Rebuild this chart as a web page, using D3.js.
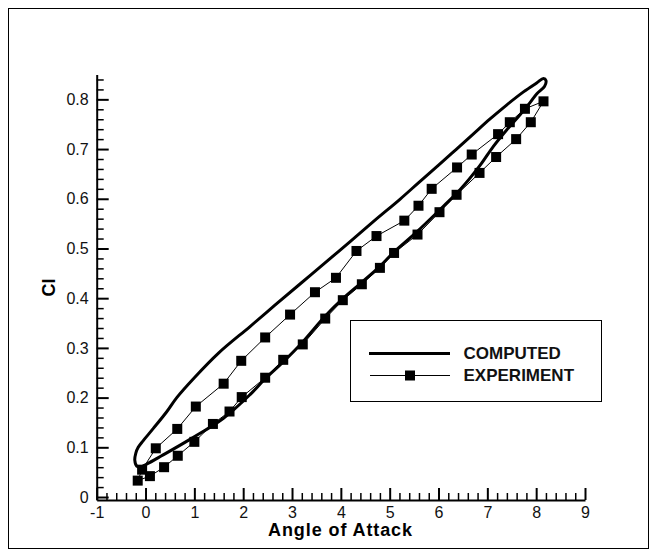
<!DOCTYPE html>
<html>
<head>
<meta charset="utf-8">
<script src="https://cdn.jsdelivr.net/npm/d3@7"></script>
<style>
  html, body { margin: 0; padding: 0; background: #fff; }
  svg { display: block; }
  text { font-family: "Liberation Sans", Arial, Helvetica, sans-serif; }
</style>
</head>
<body>
<svg id="chart" width="657" height="557"></svg>
<script>
// Axis ticks and labels
const angleTicks = [-1, 0, 1, 2, 3, 4, 5, 6, 7, 8, 9];
const angleTickLabels = ["-1", "0", "1", "2", "3", "4", "5", "6", "7", "8", "9"];
const clTicks = [0, 0.1, 0.2, 0.3, 0.4, 0.5, 0.6, 0.7, 0.8];
const clTickLabels = ["0", "0.1", "0.2", "0.3", "0.4", "0.5", "0.6", "0.7", "0.8"];
const seriesNames = ["COMPUTED", "EXPERIMENT"];

// Computed hysteresis loop: upper branch going up, then lower branch coming back
const computedAlpha = [
  -0.22, -0.20, -0.15, -0.05, 0.16, 0.43, 0.64, 1.00, 1.50, 2.14, 2.65, 3.17, 3.70,
  4.19, 4.70, 5.21, 5.60, 6.03, 6.37, 6.71, 7.05, 7.40, 7.74, 8.01, 8.15, 8.20,
  8.17, 8.01, 7.87, 7.67, 7.40, 7.12, 6.85, 6.44, 6.09, 5.55, 5.09, 4.80, 4.43,
  4.04, 3.68, 3.22, 2.82, 2.45, 2.14, 1.59, 0.91, 0.33, 0.02, -0.11, -0.18
];
const computedCl = [
  0.074, 0.088, 0.100, 0.113, 0.138, 0.171, 0.200, 0.240, 0.290, 0.343, 0.386, 0.429, 0.473,
  0.514, 0.557, 0.599, 0.633, 0.670, 0.700, 0.730, 0.760, 0.789, 0.815, 0.833, 0.842, 0.838,
  0.826, 0.811, 0.793, 0.769, 0.739, 0.705, 0.667, 0.618, 0.584, 0.533, 0.493, 0.464, 0.432,
  0.399, 0.364, 0.312, 0.272, 0.238, 0.206, 0.158, 0.116, 0.083, 0.066, 0.060, 0.062
];

// Measured loop
const experimentAlpha = [
  -0.07, 0.21, 0.65, 1.03, 1.60, 1.96, 2.45, 2.96, 3.47, 3.90, 4.32, 4.73, 5.30, 5.59,
  5.86, 6.38, 6.68, 7.22, 7.46, 7.77, 8.15,
  7.89, 7.59, 7.18, 6.84, 6.37, 6.02, 5.57, 5.09, 4.80, 4.43, 4.04, 3.68, 3.22, 2.82,
  2.45, 1.97, 1.72, 1.38, 1.00, 0.66, 0.38, 0.09, -0.16
];
const experimentCl = [
  0.055, 0.098, 0.137, 0.182, 0.228, 0.274, 0.321, 0.367, 0.412, 0.441, 0.495, 0.525, 0.556, 0.586,
  0.620, 0.663, 0.689, 0.730, 0.754, 0.781, 0.796,
  0.754, 0.720, 0.684, 0.652, 0.608, 0.573, 0.528, 0.491, 0.461, 0.428, 0.396, 0.359, 0.307, 0.276,
  0.240, 0.201, 0.172, 0.147, 0.111, 0.083, 0.060, 0.042, 0.033
];

const svg = d3.select("#chart");

// Frame
svg.append("rect")
  .attr("x", 8.5).attr("y", 8.5).attr("width", 640).attr("height", 540)
  .attr("fill", "none").attr("stroke", "#000").attr("stroke-width", 1);

const x = d3.scaleLinear().domain([-1, 9]).range([96.7, 585]);
const y = d3.scaleLinear().domain([-0.006, 0.85]).range([500, 74.5]);

// Minor ticks
const xMinor = d3.range(-1, 9.0001, 0.2).filter(v => Math.abs(v - Math.round(v)) > 1e-6);
const yMinor = d3.range(0, 0.8401, 0.02).filter(v => Math.abs(v * 10 - Math.round(v * 10)) > 1e-6);

const xMinorAxis = svg.append("g")
  .attr("transform", `translate(0,${y.range()[0]})`)
  .call(d3.axisBottom(x).tickValues(xMinor).tickSizeInner(-7).tickSizeOuter(0).tickFormat(""));
const yMinorAxis = svg.append("g")
  .attr("transform", `translate(${x.range()[0]},0)`)
  .call(d3.axisLeft(y).tickValues(yMinor).tickSizeInner(-7).tickSizeOuter(0).tickFormat(""));
[xMinorAxis, yMinorAxis].forEach(g => {
  g.select(".domain").remove();
  g.selectAll(".tick line").attr("stroke", "#000").attr("stroke-width", 1.5);
});

// Major axes
const xAxis = svg.append("g")
  .attr("transform", `translate(0,${y.range()[0]})`)
  .call(d3.axisBottom(x).tickValues(angleTicks).tickSizeInner(-12).tickSizeOuter(0)
    .tickPadding(7).tickFormat((d, i) => angleTickLabels[i]));
const yAxis = svg.append("g")
  .attr("transform", `translate(${x.range()[0]},0)`)
  .call(d3.axisLeft(y).tickValues(clTicks).tickSizeInner(-12).tickSizeOuter(0)
    .tickPadding(8).tickFormat((d, i) => clTickLabels[i]));
[xAxis, yAxis].forEach(g => {
  g.select(".domain").attr("stroke", "#000").attr("stroke-width", 2);
  g.selectAll(".tick line").attr("stroke", "#000").attr("stroke-width", 2);
  g.selectAll(".tick text")
    .attr("fill", "#111")
    .style("font-family", '"Liberation Sans", Arial, sans-serif')
    .style("font-size", "16px");
});

// Axis titles
svg.append("text")
  .attr("x", 340.5).attr("y", 536)
  .attr("text-anchor", "middle")
  .style("font-size", "18px").style("font-weight", "bold").style("letter-spacing", "0.9px")
  .text("Angle of Attack");
svg.append("text")
  .attr("transform", "translate(55,287.5) rotate(-90)")
  .attr("text-anchor", "middle")
  .style("font-size", "18px").style("font-weight", "bold")
  .text("Cl");

// Computed loop
const computed = computedAlpha.map((a, i) => [a, computedCl[i]]);
svg.append("path")
  .datum(computed)
  .attr("fill", "none").attr("stroke", "#000").attr("stroke-width", 3)
  .attr("stroke-linejoin", "round")
  .attr("d", d3.line().x(d => x(d[0])).y(d => y(d[1])).curve(d3.curveCatmullRomClosed.alpha(0.5)));

// Experimental loop
const experiment = experimentAlpha.map((a, i) => [a, experimentCl[i]]);
svg.append("path")
  .datum(experiment)
  .attr("fill", "none").attr("stroke", "#000").attr("stroke-width", 1)
  .attr("d", d3.line().x(d => x(d[0])).y(d => y(d[1])).curve(d3.curveLinearClosed));
const sq = 10;
svg.append("g").selectAll("rect")
  .data(experiment)
  .join("rect")
  .attr("x", d => x(d[0]) - sq / 2).attr("y", d => y(d[1]) - sq / 2)
  .attr("width", sq).attr("height", sq)
  .attr("fill", "#000");

// Legend
const legend = svg.append("g");
legend.append("rect")
  .attr("x", 350.5).attr("y", 320.5).attr("width", 251).attr("height", 81)
  .attr("fill", "#fff").attr("stroke", "#000").attr("stroke-width", 1);
legend.append("line")
  .attr("x1", 369).attr("x2", 450).attr("y1", 353.5).attr("y2", 353.5)
  .attr("stroke", "#000").attr("stroke-width", 3);
legend.append("line")
  .attr("x1", 370).attr("x2", 450).attr("y1", 375.5).attr("y2", 375.5)
  .attr("stroke", "#000").attr("stroke-width", 1);
legend.append("rect")
  .attr("x", 410 - sq / 2).attr("y", 375.5 - sq / 2).attr("width", sq).attr("height", sq)
  .attr("fill", "#000");
legend.selectAll("text.lbl")
  .data(seriesNames)
  .join("text")
  .attr("class", "lbl")
  .attr("x", 463.5)
  .attr("y", (d, i) => i === 0 ? 359 : 380.5)
  .style("font-size", "17px").style("font-weight", "bold")
  .attr("fill", "#111")
  .text(d => d);
</script>
</body>
</html>
